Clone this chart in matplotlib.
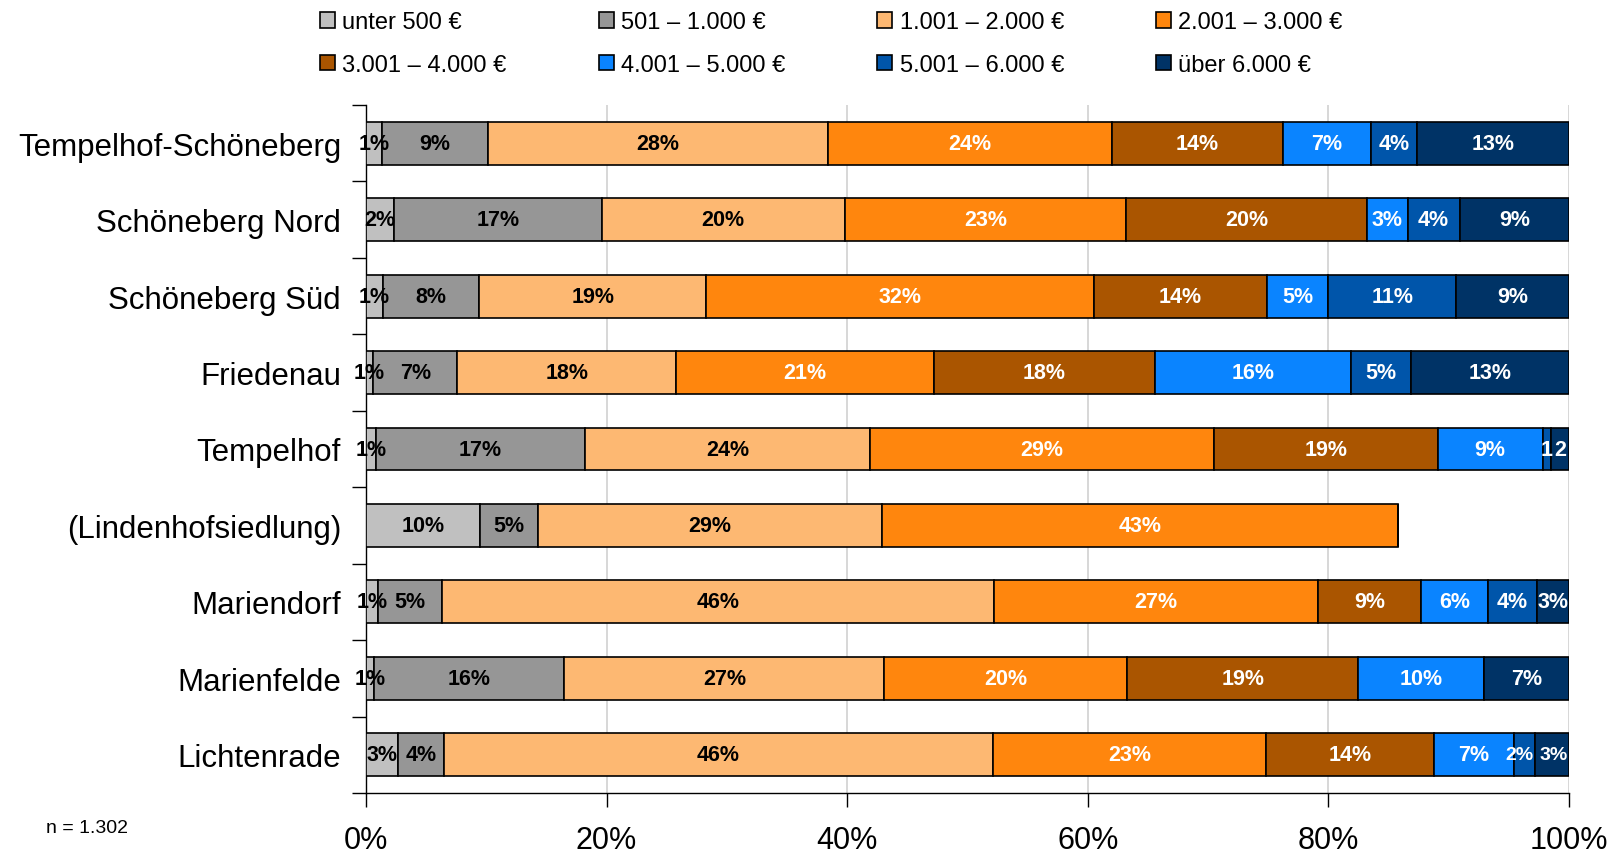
import numpy as np
import matplotlib
matplotlib.use("Agg")
import matplotlib.pyplot as plt
from matplotlib.ticker import FixedLocator, PercentFormatter

plt.rcParams["font.family"] = ["Liberation Sans", "DejaVu Sans"]

# Districts, top to bottom
districts = [
    "Tempelhof-Schöneberg",
    "Schöneberg Nord",
    "Schöneberg Süd",
    "Friedenau",
    "Tempelhof",
    "(Lindenhofsiedlung)",
    "Mariendorf",
    "Marienfelde",
    "Lichtenrade",
]

# Household net income bands
income_bands = [
    "unter 500 €",
    "501 – 1.000 €",
    "1.001 – 2.000 €",
    "2.001 – 3.000 €",
    "3.001 – 4.000 €",
    "4.001 – 5.000 €",
    "5.001 – 6.000 €",
    "über 6.000 €",
]

# Share of households per band (%), one value per district
under_500   = [1.3, 2.3, 1.4, 0.6, 0.8, 9.5, 1.0, 0.7, 2.7]
from_501    = [8.8, 17.3, 8.0, 7.0, 17.4, 4.8, 5.3, 15.8, 3.8]
from_1001   = [28.3, 20.2, 18.9, 18.2, 23.7, 28.6, 45.9, 26.6, 45.6]
from_2001   = [23.6, 23.4, 32.2, 21.4, 28.6, 42.9, 26.9, 20.2, 22.7]
from_3001   = [14.2, 20.0, 14.4, 18.4, 18.6, 0.0, 8.6, 19.2, 14.0]
from_4001   = [7.3, 3.4, 5.1, 16.3, 8.7, 0.0, 5.6, 10.4, 6.6]
from_5001   = [3.9, 4.3, 10.6, 5.0, 0.7, 0.0, 4.0, 0.0, 1.8]
over_6000   = [12.6, 9.1, 9.4, 13.1, 1.5, 0.0, 2.7, 7.1, 2.8]

series = [under_500, from_501, from_1001, from_2001,
          from_3001, from_4001, from_5001, over_6000]

band_colors = ["#C0C0C0", "#969696", "#FDB872", "#FF860D",
               "#AA5500", "#0A84FF", "#0055AA", "#003366"]
label_colors = ["black", "black", "black", "white",
                "white", "white", "white", "white"]

# cells whose label is shown without the percent sign (district, band)
plain_number_cells = [(4, 6), (4, 7)]
# very narrow neighbouring cells: smaller label, slight horizontal shift (in %)
tight_cells = {(8, 6): -0.4, (8, 7): 0.1}

sample_note = "n = 1.302"

W, H = 1617, 854
fig = plt.figure(figsize=(W / 100, H / 100), dpi=100)
ax = fig.add_axes([366 / W, 1 - 794 / H, (1569 - 366) / W, (794 - 106) / H])

y = np.arange(len(districts))
left = np.zeros(len(districts))
handles = []
for b, (band, vals) in enumerate(zip(income_bands, series)):
    vals = np.asarray(vals, dtype=float)
    cont = ax.barh(y, vals, left=left, height=0.56, color=band_colors[b],
                   edgecolor="black", linewidth=1.2, label=band, zorder=3)
    handles.append(cont)
    for i, v in enumerate(vals):
        if v <= 0:
            continue
        txt = f"{v:.0f}" if (i, b) in plain_number_cells else f"{v:.0f}%"
        shift = tight_cells.get((i, b), 0.0)
        size = 14 if (i, b) in tight_cells else 15.5
        ax.text(left[i] + v / 2 + shift, y[i], txt, ha="center", va="center",
                color=label_colors[b], fontsize=size, fontweight="bold", zorder=4)
    left += vals

ax.set_xlim(0, 100)
ax.set_ylim(len(districts) - 0.5, -0.5)

ax.xaxis.set_major_locator(FixedLocator([0, 20, 40, 60, 80, 100]))
ax.xaxis.set_major_formatter(PercentFormatter(decimals=0))
ax.tick_params(axis="x", length=10, width=1, pad=13, labelsize=22, direction="out")

ax.set_yticks(y)
ax.set_yticklabels(districts, fontsize=22.5)
ax.tick_params(axis="y", which="major", length=0, pad=18)
ax.set_yticks(np.arange(-0.5, len(districts), 1), minor=True)
ax.tick_params(axis="y", which="minor", length=10, width=1, direction="out")

ax.grid(axis="x", color="#D4D4D4", linewidth=1.3, zorder=0)
ax.set_axisbelow(True)
for side in ("top", "right"):
    ax.spines[side].set_visible(False)
for side in ("left", "bottom"):
    ax.spines[side].set_color("black")
    ax.spines[side].set_linewidth(1.0)

# legend filled row by row: 4 columns, 2 rows
order = [0, 4, 1, 5, 2, 6, 3, 7]
fig.legend([handles[k] for k in order], [income_bands[k] for k in order],
           ncol=4, loc="upper left", bbox_to_anchor=(320 / W, 1 - 12 / H),
           frameon=False, fontsize=17, handlelength=0.64, handleheight=0.64,
           handletextpad=0.3, columnspacing=3.9, labelspacing=0.88,
           borderpad=0, borderaxespad=0)

fig.text(46 / W, 1 - 829 / H, sample_note, fontsize=14, ha="left", va="center")

fig.savefig("out.png", dpi=100)
